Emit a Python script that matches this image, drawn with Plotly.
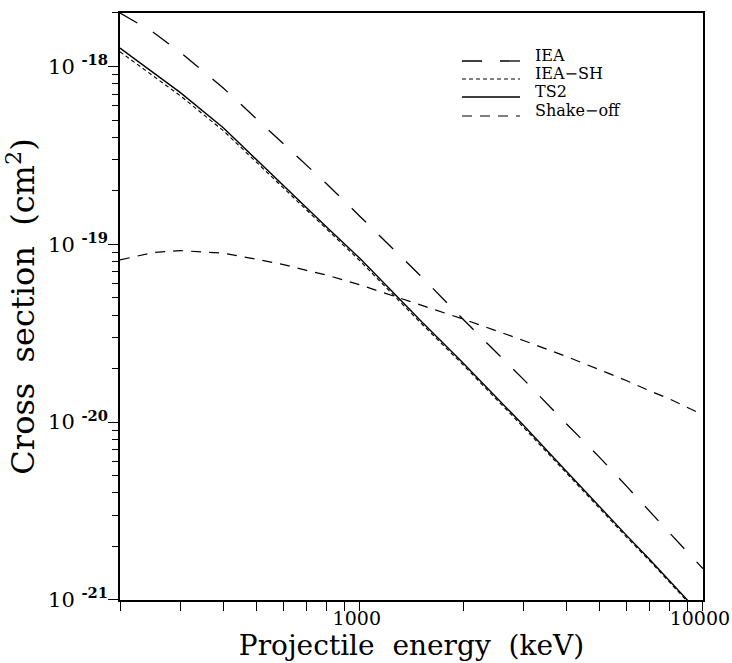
import plotly.graph_objects as go

# ---- data ----
energy_keV = [200, 250, 300, 400, 500, 600, 700, 800, 1000, 1500, 2000,
              3000, 4000, 5000, 6000, 7000, 8000, 10000]

iea = [2.0e-18, 1.56e-18, 1.20e-18, 7.57e-19, 5.08e-19, 3.66e-19, 2.77e-19,
       2.19e-19, 1.44e-19, 6.68e-20, 3.79e-20, 1.74e-20, 9.8e-21, 6.34e-21,
       4.35e-21, 3.13e-21, 2.38e-21, 1.50e-21]

iea_sh = [1.21e-18, 8.88e-19, 6.84e-19, 4.36e-19, 2.89e-19, 2.05e-19, 1.55e-19,
          1.21e-19, 8.09e-20, 3.64e-20, 2.10e-20, 9.36e-21, 5.18e-21, 3.26e-21,
          2.25e-21, 1.66e-21, 1.25e-21, 7.9e-22]

ts2 = [1.27e-18, 9.27e-19, 7.13e-19, 4.53e-19, 2.99e-19, 2.12e-19, 1.60e-19,
       1.25e-19, 8.34e-20, 3.74e-20, 2.15e-20, 9.6e-21, 5.30e-21, 3.33e-21,
       2.30e-21, 1.69e-21, 1.28e-21, 8.04e-22]

shake_off = [8.17e-20, 9.0e-20, 9.22e-20, 8.92e-20, 8.24e-20, 7.69e-20, 7.13e-20,
             6.72e-20, 5.92e-20, 4.56e-20, 3.80e-20, 2.88e-20, 2.34e-20, 1.97e-20,
             1.71e-20, 1.50e-20, 1.35e-20, 1.10e-20]

series_names = ["IEA", "IEA\u2212SH", "TS2", "Shake\u2212off"]

x_major_ticks = [1000, 10000]
x_major_labels = ["1000", "10000"]
x_minor_ticks = [200, 300, 400, 500, 600, 700, 800, 900,
                 2000, 3000, 4000, 5000, 6000, 7000, 8000, 9000]

y_major_ticks = [1e-21, 1e-20, 1e-19, 1e-18]
y_exponents = ["-21", "-20", "-19", "-18"]
y_major_labels = ["10 <sup><b>%s</b></sup>" % e for e in y_exponents]
y_minor_ticks = [m * 10.0 ** e for e in (-21, -20, -19, -18) for m in range(2, 10)]

x_title = "Projectile  energy  (keV)"
y_title = "Cross  section  (cm<sup>2</sup>)"

# ---- styles ----
SERIF = "DejaVu Serif"
dashes = ["20px,18px", "4px,3px", "solid", "10px,8px"]
widths = [1.3, 1.1, 1.4, 1.2]
all_series = [iea, iea_sh, ts2, shake_off]

fig = go.Figure()
for name, ys, dash, w in zip(series_names, all_series, dashes, widths):
    fig.add_trace(go.Scatter(
        x=energy_keV, y=ys, mode="lines", name=name,
        line=dict(color="black", width=w, dash=dash),
        showlegend=False,
    ))

# ---- hand-drawn legend (compact, like the original) ----
L, R, T, B = 120, 29, 13, 63
W, H = 732, 663
pw, ph = W - L - R, H - T - B

def px_to_paper(xp, yp):
    return (xp - L) / pw, (H - B - yp) / ph

baselines = [61, 79, 97, 116]
for name, dash, w, yb in zip(series_names, dashes, widths, baselines):
    x0, y0 = px_to_paper(462, yb)
    x1, _ = px_to_paper(520, yb)
    fig.add_shape(type="line", xref="paper", yref="paper",
                  x0=x0, x1=x1, y0=y0, y1=y0,
                  line=dict(color="black", width=w, dash=dash))
    tx, ty = px_to_paper(534, yb - 6)
    fig.add_annotation(xref="paper", yref="paper", x=tx, y=ty,
                       text=name, showarrow=False, xanchor="left", yanchor="middle",
                       height=16, borderpad=0,
                       font=dict(family=SERIF, size=16, color="black"))

fig.update_xaxes(
    type="log", range=[2.30103, 4.0004], automargin=False,
    showline=True, linecolor="black", linewidth=1.5, mirror=True,
    showgrid=False, zeroline=False,
    tickmode="array", tickvals=x_major_ticks, ticktext=x_major_labels,
    ticks="outside", ticklen=9, tickwidth=1.2, tickcolor="black",
    ticklabeloverflow="allow", ticklabelshift=-3, ticklabelstandoff=-9,
    tickfont=dict(family=SERIF, size=19, color="black"),
    minor=dict(tickmode="array", tickvals=x_minor_ticks, ticks="outside",
               ticklen=9, tickwidth=1.2, tickcolor="black", showgrid=False),
    title=dict(text=x_title, font=dict(family=SERIF, size=28, color="black"), standoff=7),
)
fig.update_yaxes(
    type="log", range=[-21.0003, -17.699], automargin=False,
    showline=True, linecolor="black", linewidth=1.5, mirror=True,
    showgrid=False, zeroline=False,
    tickmode="array", tickvals=y_major_ticks, ticktext=y_major_labels,
    ticks="outside", ticklen=10, tickwidth=1.2, tickcolor="black",
    ticklabelstandoff=-4,
    tickfont=dict(family=SERIF, size=21, color="black"),
    minor=dict(tickmode="array", tickvals=y_minor_ticks, ticks="outside",
               ticklen=6, tickwidth=1.1, tickcolor="black", showgrid=False),
    title=dict(text=y_title, font=dict(family=SERIF, size=32, color="black"), standoff=6),
)

fig.update_layout(
    width=W, height=H,
    margin=dict(l=L, r=R, t=T, b=B, pad=0),
    paper_bgcolor="white", plot_bgcolor="white",
    showlegend=False,
)

fig.write_html("out.html")
